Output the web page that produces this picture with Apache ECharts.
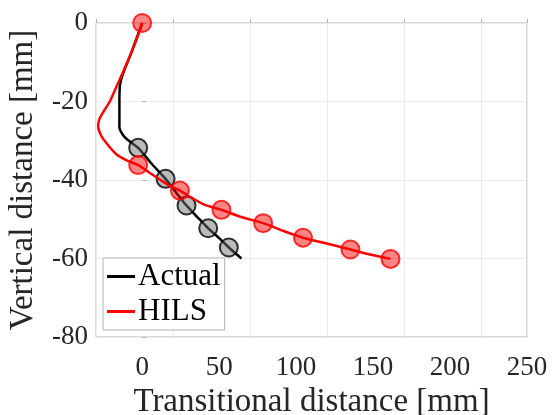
<!DOCTYPE html>
<html lang="en">
<head>
    <meta charset="UTF-8">
    <title>Trajectory</title>
    <script type="text/javascript" src="https://cdn.jsdelivr.net/npm/echarts@6/dist/echarts.min.js"></script>
</head>
<body style="margin:0">
<div id="main" style="width: 558px;height:415px"></div>

<script type="text/javascript">
    // actual trajectory (line + markers)
    var actualLineX = [0, -7, -14.3, -14.8, -14.8, -12, -8, -2.6, 6, 15.2, 22, 28.8, 36, 42.9, 50, 56.3, 64.5];
    var actualLineY = [0, -7.5, -15.5, -20, -26.5, -28.8, -30.2, -31.8, -35.8, -39.7, -43.2, -46.5, -49.5, -52.3, -54.8, -57.2, -60];
    var actualMarkX = [-2.6, 15.2, 28.8, 42.9, 56.3];
    var actualMarkY = [-31.8, -39.7, -46.5, -52.3, -57.2];

    // HILS trajectory
    var hilsLineX = [0, -3, -7, -13, -17, -21, -25, -27.8, -28.6, -26.5, -23, -16.6, -10, -2.6, 5, 12, 18, 24.5, 32, 40, 51.5, 65, 78.6, 92, 104.5, 120, 135.3, 148, 161.3];
    var hilsLineY = [0, -3.5, -7.5, -13, -16.5, -20, -22.5, -24.5, -26.4, -28.8, -30.7, -33.5, -35, -36.2, -38.2, -40, -41.5, -42.7, -44.5, -46.2, -47.6, -49.5, -51, -53, -54.7, -56.2, -57.7, -59, -60.1];
    var hilsMarkX = [0, -2.6, 24.5, 51.5, 78.6, 104.5, 135.3, 161.3];
    var hilsMarkY = [0, -36.2, -42.7, -47.6, -51, -54.7, -57.7, -60.1];

    function zip(xs, ys) {
        var out = [];
        for (var i = 0; i < xs.length; i++) out.push([xs[i], ys[i]]);
        return out;
    }

    var font = 'Liberation Serif';
    var chart = echarts.init(document.getElementById('main'));

    var option = {
        animation: false,
        textStyle: {fontFamily: font},
        grid: {
            left: 96, right: 31, top: 23, bottom: 78,
            outerBoundsMode: 'none', containLabel: false,
            show: true, borderColor: '#b3b3b3', borderWidth: 1
        },
        legend: {
            left: 103, top: 258, orient: 'vertical',
            itemWidth: 28, itemHeight: 3, itemGap: 4,
            padding: [3, 4, 3, 4],
            backgroundColor: '#fff', borderColor: '#b3b3b3', borderWidth: 1,
            textStyle: {fontFamily: font, fontSize: 31, color: '#000', padding: [0, 0, 0, -2]},
            data: [{name: 'Actual', icon: 'rect'}, {name: 'HILS', icon: 'rect'}]
        },
        xAxis: {
            type: 'value', min: -30, max: 250, interval: 50,
            name: 'Transitional distance [mm]', nameLocation: 'middle', nameGap: 42,
            nameTextStyle: {fontFamily: font, fontSize: 33, color: '#262626'},
            axisLine: {show: false},
            axisTick: {show: true, inside: true, length: 4, lineStyle: {color: '#b3b3b3'}},
            axisLabel: {fontFamily: font, fontSize: 27, color: '#262626', margin: 17,
                customValues: [0, 50, 100, 150, 200, 250]},
            splitLine: {lineStyle: {color: '#ebebeb'}}
        },
        yAxis: {
            type: 'value', min: -80, max: 0, interval: 20,
            name: 'Vertical distance [mm]', nameLocation: 'middle', nameGap: 56,
            nameTextStyle: {fontFamily: font, fontSize: 33, color: '#262626'},
            axisLine: {show: false},
            axisTick: {show: true, inside: true, length: 4, lineStyle: {color: '#b3b3b3'}},
            axisLabel: {fontFamily: font, fontSize: 27, color: '#262626', margin: 8},
            splitLine: {lineStyle: {color: '#ebebeb'}}
        },
        series: [
            {
                name: 'Actual', type: 'line', data: zip(actualLineX, actualLineY),
                showSymbol: false, smooth: 0.3, z: 3,
                lineStyle: {color: '#000', width: 2.5}, itemStyle: {color: '#000'}
            },
            {
                name: 'ActualMarks', type: 'scatter', data: zip(actualMarkX, actualMarkY),
                symbolSize: 18, z: 4,
                itemStyle: {color: 'rgba(110,110,110,0.6)', borderColor: '#000', borderWidth: 2}
            },
            {
                name: 'HILS', type: 'line', data: zip(hilsLineX, hilsLineY),
                showSymbol: false, smooth: 0.3, z: 5,
                lineStyle: {color: '#ff0000', width: 2.5}, itemStyle: {color: '#ff0000'}
            },
            {
                name: 'HILSMarks', type: 'scatter', data: zip(hilsMarkX, hilsMarkY),
                symbolSize: 18, z: 6,
                itemStyle: {color: 'rgba(255,0,0,0.6)', borderColor: '#ff0000', borderWidth: 2}
            }
        ]
    };

    chart.setOption(option);
</script>
</body>
</html>
